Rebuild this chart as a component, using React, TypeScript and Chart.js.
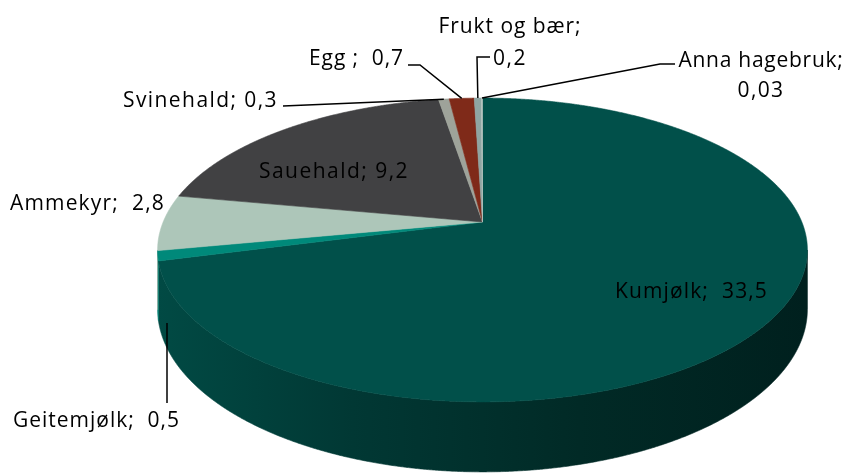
import React, { useEffect, useRef } from 'react';
import { Chart, registerables } from 'chart.js';

Chart.register(...registerables);

// ---- data ----
const categories = ['Kumjølk', 'Geitemjølk', 'Ammekyr', 'Sauehald', 'Svinehald', 'Egg ', 'Frukt og bær', 'Anna hagebruk'];
const values = [33.5, 0.5, 2.8, 9.2, 0.3, 0.7, 0.2, 0.03];
const valueLabels = ['33,5', '0,5', '2,8', '9,2', '0,3', '0,7', '0,2', '0,03'];
const sliceColors = ['#01504a', '#00897a', '#adc6b9', '#414143', '#9ea39a', '#7f2a19', '#8fa5a2', '#b7c4bf'];

// ---- layout (label placement, not data) ----
type LabelLayout = {
  lines: string[];
  align: 'left' | 'center';
  x: number;
  baselines: number[];
  widths: number[];
  leader?: number[][];
  leaderToSlice?: boolean;
};

const sep = (i: number, wide: boolean) => `${categories[i]};${wide ? '  ' : ' '}${valueLabels[i]}`;

const labelLayout: LabelLayout[] = [
  { lines: [sep(0, true)], align: 'left', x: 615, baselines: [298], widths: [153] },
  { lines: [sep(1, true)], align: 'left', x: 13, baselines: [427], widths: [167], leader: [[167, 403], [167, 323]] },
  { lines: [sep(2, true)], align: 'left', x: 10, baselines: [210], widths: [155] },
  { lines: [sep(3, false)], align: 'left', x: 259, baselines: [178], widths: [150] },
  { lines: [sep(4, false)], align: 'left', x: 123, baselines: [107], widths: [155], leader: [[283, 106]], leaderToSlice: true },
  { lines: [sep(5, true)], align: 'left', x: 309, baselines: [65], widths: [95], leader: [[408, 65], [420, 65]], leaderToSlice: true },
  { lines: [categories[6] + ';', valueLabels[6]], align: 'center', x: 510, baselines: [33, 65], widths: [143, 34], leader: [[490, 57], [477, 57]], leaderToSlice: true },
  { lines: [categories[7] + ';', valueLabels[7]], align: 'center', x: 761, baselines: [67, 97], widths: [165, 47], leader: [[675, 64], [660, 64]], leaderToSlice: true },
];

// perspective projection of the flat pie computed by Chart.js
const P = { cx: 482.5, cy: 222, D: 5.43, C: 1734, B: 797, E: 310 };
function proj(a: number, r: number, h: number): [number, number] {
  const u = r * Math.cos(a);
  const v = -r * Math.sin(a);
  const den = P.D + v;
  return [P.cx + (P.C * u) / den, P.cy - (P.B * v) / den + (P.E * h) / den];
}

function parseHex(c: string) {
  return [parseInt(c.slice(1, 3), 16), parseInt(c.slice(3, 5), 16), parseInt(c.slice(5, 7), 16)];
}
function shade(c: string, f: number) {
  const [r, g, b] = parseHex(c);
  return `rgb(${Math.round(r * f)},${Math.round(g * f)},${Math.round(b * f)})`;
}

const STEP = 0.004;

const pie3d = {
  id: 'pie3d',
  beforeDatasetsDraw(chart: any) {
    const ctx: CanvasRenderingContext2D = chart.ctx;
    const meta = chart.getDatasetMeta(0);
    const arcs = meta.data as any[];
    const aMin = Math.asin(1 / P.D);
    const aMax = Math.PI - aMin;
    ctx.save();
    // side walls (visible front part)
    arcs.forEach((arc, i) => {
      const s = Math.max(arc.startAngle, aMin);
      const e = Math.min(arc.endAngle, aMax);
      if (e <= s) return;
      const base = sliceColors[i];
      const g = ctx.createLinearGradient(158, 0, 807, 0);
      g.addColorStop(0, shade(base, 0.92));
      g.addColorStop(0.3, shade(base, 0.7));
      g.addColorStop(0.65, shade(base, 0.52));
      g.addColorStop(1, shade(base, 0.4));
      ctx.beginPath();
      let first = true;
      for (let a = s; a < e; a += STEP) {
        const [x, y] = proj(a, 1, 0);
        if (first) { ctx.moveTo(x, y); first = false; } else ctx.lineTo(x, y);
      }
      let p = proj(e, 1, 0);
      ctx.lineTo(p[0], p[1]);
      for (let a = e; a > s; a -= STEP) {
        const [x, y] = proj(a, 1, 1);
        ctx.lineTo(x, y);
      }
      p = proj(s, 1, 1);
      ctx.lineTo(p[0], p[1]);
      ctx.closePath();
      ctx.fillStyle = g;
      ctx.fill();
      ctx.strokeStyle = g;
      ctx.lineWidth = 0.6;
      ctx.stroke();
    });
    // top faces
    arcs.forEach((arc, i) => {
      const s = arc.startAngle;
      const e = arc.endAngle;
      ctx.beginPath();
      const c = proj(0, 0, 0);
      ctx.moveTo(c[0], c[1]);
      for (let a = s; a < e; a += STEP) {
        const [x, y] = proj(a, 1, 0);
        ctx.lineTo(x, y);
      }
      const p = proj(e, 1, 0);
      ctx.lineTo(p[0], p[1]);
      ctx.closePath();
      ctx.fillStyle = sliceColors[i];
      ctx.fill();
      ctx.strokeStyle = sliceColors[i];
      ctx.lineWidth = 0.6;
      ctx.stroke();
    });
    ctx.restore();
    return false;
  },
  afterDraw(chart: any) {
    const ctx: CanvasRenderingContext2D = chart.ctx;
    const meta = chart.getDatasetMeta(0);
    const arcs = meta.data as any[];
    ctx.save();
    ctx.font = '21px "Open Sans"';
    ctx.fillStyle = '#000';
    ctx.textBaseline = 'alphabetic';
    ctx.textAlign = 'left';
    labelLayout.forEach((L, i) => {
      L.lines.forEach((line, j) => {
        (ctx as any).letterSpacing = '0px';
        const w = ctx.measureText(line).width;
        const n = [...line].length;
        let ls = (L.widths[j] - w) / n;
        ls = Math.max(-1.5, Math.min(4, ls));
        (ctx as any).letterSpacing = `${ls}px`;
        const x = L.align === 'left' ? L.x : L.x - L.widths[j] / 2;
        ctx.fillText(line, x, L.baselines[j]);
      });
      if (L.leader) {
        const pts = L.leader.map((p) => [p[0], p[1]]);
        if (L.leaderToSlice) {
          const arc = arcs[i];
          const mid = (arc.startAngle + arc.endAngle) / 2;
          pts.push(proj(mid, 1, 0));
        }
        ctx.beginPath();
        ctx.moveTo(pts[0][0], pts[0][1]);
        for (let k = 1; k < pts.length; k++) ctx.lineTo(pts[k][0], pts[k][1]);
        ctx.strokeStyle = '#000';
        ctx.lineWidth = 1.5;
        ctx.stroke();
      }
    });
    ctx.restore();
  },
};

export default function App() {
  const ref = useRef<HTMLCanvasElement>(null);
  useEffect(() => {
    if (!ref.current) return;
    const chart = new Chart(ref.current, {
      type: 'pie',
      data: {
        labels: categories,
        datasets: [{ data: values, backgroundColor: sliceColors, borderWidth: 0 }],
      },
      options: {
        animation: false,
        responsive: false,
        devicePixelRatio: 1,
        rotation: 0,
        events: [],
        plugins: { legend: { display: false }, tooltip: { enabled: false } },
      },
      plugins: [pie3d as any],
    });
    return () => chart.destroy();
  }, []);
  return (
    <div style={{ position: 'absolute', left: 0, top: 0, width: 851, height: 474, background: '#fff' }}>
      <canvas ref={ref} width={851} height={474} style={{ display: 'block', width: 851, height: 474 }} />
    </div>
  );
}
